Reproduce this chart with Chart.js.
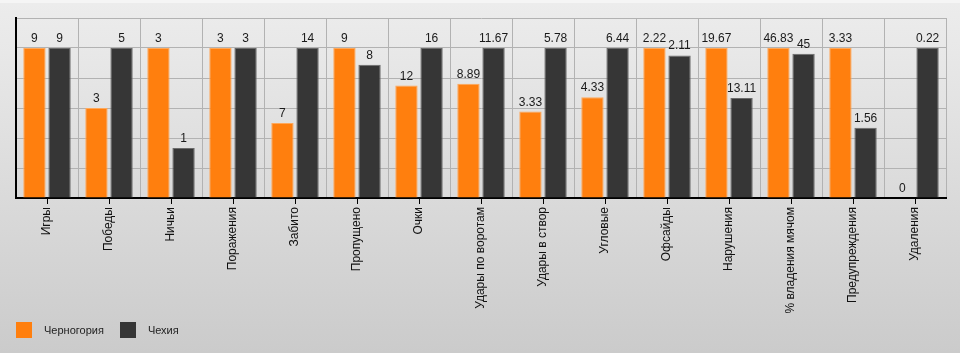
<!DOCTYPE html>
<html>
<head>
<meta charset="utf-8">
<script src="https://cdn.jsdelivr.net/npm/chart.js@4"></script>
<style>
	html, body { margin: 0; padding: 0; }
	#wrap {
		position: relative; width: 960px; height: 353px;
		background: linear-gradient(#f5f5f5 0px, #f5f5f5 3px, #ececec 3px, #e8e8e8 15%, #cbcbcb);
		font-family: "Liberation Sans", Arial, sans-serif;
	}
	#mycanvas { position: absolute; left: 0; top: 0; }
	#legend { position: absolute; left: 16px; top: 322px; font-size: 11px; color: #222; }
	#legend span.box { display: inline-block; width: 16px; height: 16px; vertical-align: middle; margin-right: 12px; }
	#legend span.txt { display: inline-block; vertical-align: middle; margin-right: 16px; }
</style>
</head>
<body>
<div id="wrap">
	<canvas id="mycanvas" width="960" height="353"></canvas>
	<div id="legend"></div>
</div>
<script>
var categories = ['Игры', 'Победы', 'Ничьи', 'Поражения', 'Забито', 'Пропущено', 'Очки',
	'Удары по воротам', 'Удары в створ', 'Угловые', 'Офсайды', 'Нарушения',
	'% владения мячом', 'Предупреждения', 'Удаления'];
var montenegro = [9, 3, 3, 3, 7, 9, 12, 8.89, 3.33, 4.33, 2.22, 19.67, 46.83, 3.33, 0];
var czech = [9, 5, 1, 3, 14, 8, 16, 11.67, 5.78, 6.44, 2.11, 13.11, 45, 1.56, 0.22];
var seriesNames = ['Черногория', 'Чехия'];
var seriesColors = ['#ff7f0e', '#363636'];
var seriesBorders = ['#ffa85a', '#6b6b6b'];

// bar height = share of the bigger value in each category
function share(a, b) {
	var out = [];
	for (var i in a) {
		var m = Math.max(a[i], b[i]);
		out.push(m ? a[i] / m * 100 : 0);
	}
	return out;
}
var raw = [montenegro, czech];

var valueLabels = {
	id: 'valueLabels',
	afterDatasetsDraw: function(chart) {
		var ctx = chart.ctx;
		ctx.save();
		ctx.font = '12px "Liberation Sans", Arial, sans-serif';
		ctx.fillStyle = '#1a1a1a';
		ctx.textAlign = 'center';
		ctx.textBaseline = 'alphabetic';
		chart.data.datasets.forEach(function(ds, d) {
			chart.getDatasetMeta(d).data.forEach(function(bar, i) {
				ctx.fillText(String(raw[d][i]), bar.x, bar.y - 6);
			});
		});
		ctx.restore();
	},
	afterDraw: function(chart) {
		var ctx = chart.ctx, sc = chart.scales.x;
		ctx.save();
		ctx.strokeStyle = '#000';
		ctx.lineWidth = 1;
		for (var i = 0; i < categories.length; i++) {
			var px = Math.round(sc.getPixelForTick(i)) + 0.5;
			ctx.beginPath();
			ctx.moveTo(px, sc.top);
			ctx.lineTo(px, sc.top + 6);
			ctx.stroke();
		}
		ctx.restore();
	}
};

var chartdata = {
	labels: categories,
	datasets: [
		{
			label: seriesNames[0],
			backgroundColor: seriesColors[0],
			borderColor: seriesBorders[0],
			borderWidth: 1,
			data: share(montenegro, czech)
		},
		{
			label: seriesNames[1],
			backgroundColor: seriesColors[1],
			borderColor: seriesBorders[1],
			borderWidth: 1,
			data: share(czech, montenegro)
		}
	]
};

var legend = document.getElementById('legend');
seriesNames.forEach(function(n, i) {
	legend.innerHTML += '<span class="box" style="background:' + seriesColors[i] + '"></span><span class="txt">' + n + '</span>';
});

var ctx = document.getElementById('mycanvas');
var barGraph = new Chart(ctx, {
	type: 'bar',
	data: chartdata,
	plugins: [valueLabels],
	options: {
		responsive: false,
		animation: false,
		layout: { padding: { left: 16, right: 14, top: 18, bottom: 0 } },
		plugins: { legend: { display: false }, tooltip: { enabled: false } },
		datasets: { bar: { categoryPercentage: 0.81, barPercentage: 0.89 } },
		scales: {
			x: {
				grid: { offset: true, color: '#b2b2b2', drawTicks: false },
				border: { color: '#000', width: 2 },
				ticks: {
					minRotation: 90, maxRotation: 90, autoSkip: false, padding: 9,
					color: '#111', font: { family: '"Liberation Sans", Arial, sans-serif', size: 12 }
				},
				afterFit: function(s) { s.height = 155; }
			},
			y: {
				min: 0, max: 120,
				grid: { color: '#b2b2b2', drawTicks: false },
				border: { color: '#000', width: 2 },
				ticks: { stepSize: 20, display: false },
				afterFit: function(s) { s.width = 0; }
			}
		}
	}
});
</script>
</body>
</html>
